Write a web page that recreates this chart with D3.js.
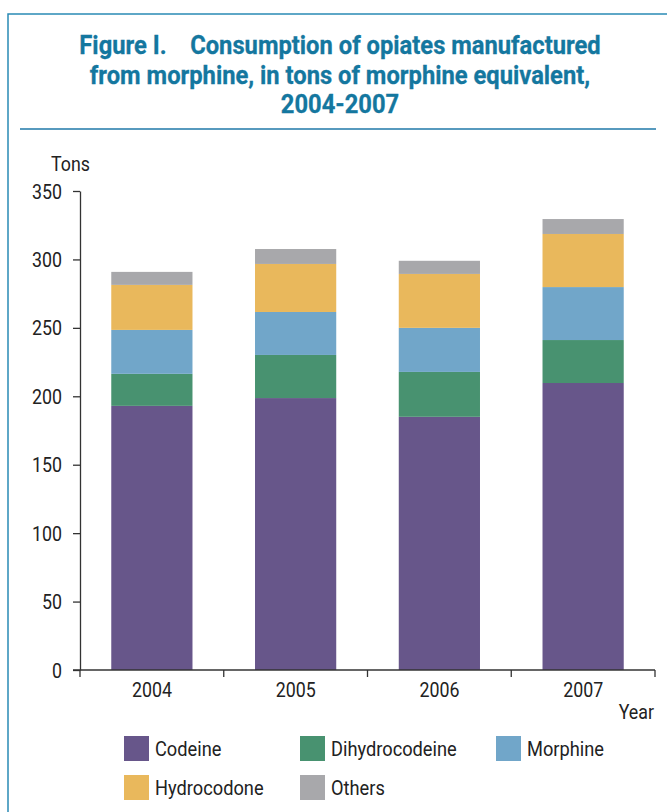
<!DOCTYPE html>
<html>
<head>
<meta charset="utf-8">
<script src="https://cdn.jsdelivr.net/npm/d3@7"></script>
<style>
  html, body { margin: 0; padding: 0; background: #fff; }
  svg { display: block; }
  text { font-family: Roboto, "Liberation Sans", sans-serif; }
</style>
</head>
<body>
<svg id="chart" width="667" height="812"></svg>
<script>
const years = ["2004", "2005", "2006", "2007"];
const seriesNames = ["Codeine", "Dihydrocodeine", "Morphine", "Hydrocodone", "Others"];
const codeine        = [193.0, 198.7, 185.0, 209.7];
const dihydrocodeine = [23.4, 31.5, 32.8, 31.4];
const morphine       = [32.1, 31.4, 32.2, 38.7];
const hydrocodone    = [32.9, 35.1, 39.4, 38.8];
const others         = [9.5, 10.9, 9.6, 10.9];
const yTicks = [0, 50, 100, 150, 200, 250, 300, 350];
const titleLines = ["Figure I.\u00A0\u00A0\u00A0\u00A0Consumption of opiates manufactured",
                    "from morphine, in tons of morphine equivalent,",
                    "2004-2007"];
const colors = ["#67568a", "#489270", "#71a6c9", "#e9b85c", "#a8a8ab"];

const seriesValues = [codeine, dihydrocodeine, morphine, hydrocodone, others];
const rows = years.map((y, i) => {
  const r = { year: y };
  seriesNames.forEach((s, k) => r[s] = seriesValues[k][i]);
  return r;
});

const SX = 0.89;      // horizontal condensing of body text
const TSX = 0.95;     // horizontal condensing of title
const svg = d3.select("#chart");

function ctext(parent, x, y, str, size, anchor, sx) {
  return parent.append("text")
    .attr("transform", `translate(${x},${y}) scale(${sx || SX},1)`)
    .attr("text-anchor", anchor || "start")
    .attr("font-size", size)
    .attr("fill", "#222")
    .text(str);
}

// frame
svg.append("path")
  .attr("d", "M8,812 L8,14 L667,14")
  .attr("fill", "none").attr("stroke", "#2a8ab5").attr("stroke-width", 1.5);

// title
titleLines.forEach((t, i) => {
  ctext(svg, 340, 54 + i * 29.5, t, 25, "middle", TSX)
    .attr("fill", "#14779f").attr("font-weight", "bold")
    .attr("stroke", "#14779f").attr("stroke-width", 0.3);
});
svg.append("line")
  .attr("x1", 20).attr("x2", 656).attr("y1", 129).attr("y2", 129)
  .attr("stroke", "#1f78a8").attr("stroke-width", 1.5);

const x = d3.scaleBand().domain(years).range([80, 655]).paddingInner(0.435).paddingOuter(0.2175);
const y = d3.scaleLinear().domain([0, 350]).range([670, 191]);

const stacked = d3.stack().keys(seriesNames)(rows);

svg.append("g").selectAll("g").data(stacked).join("g")
  .attr("fill", (d, i) => colors[i])
  .selectAll("rect").data(d => d).join("rect")
  .attr("x", d => x(d.data.year))
  .attr("width", x.bandwidth())
  .attr("y", d => y(d[1]))
  .attr("height", d => y(d[0]) - y(d[1]));

// y axis
const yAxis = svg.append("g").attr("transform", "translate(80,0)")
  .call(d3.axisLeft(y).tickValues(yTicks).tickSize(7).tickSizeOuter(0));
yAxis.select(".domain").attr("stroke", "#333").attr("stroke-width", 1.3);
yAxis.selectAll(".tick line").attr("stroke", "#333").attr("stroke-width", 1.3);
yAxis.selectAll(".tick text")
  .attr("x", null).attr("dy", null)
  .attr("transform", `translate(-18,7) scale(${SX},1)`)
  .attr("font-size", 20).attr("fill", "#222")
  .attr("font-family", "Roboto, 'Liberation Sans', sans-serif");

// x axis with ticks at category boundaries
const xg = svg.append("g").attr("transform", "translate(0,670)");
xg.append("line").attr("x1", 73).attr("x2", 655).attr("y1", 0).attr("y2", 0)
  .attr("stroke", "#333").attr("stroke-width", 1.3);
const edges = [x.range()[0]].concat(years.map(d => x(d) + x.bandwidth() + (x.step() - x.bandwidth()) / 2));
edges[edges.length - 1] = x.range()[1];
xg.selectAll("line.tk").data(edges).join("line").attr("class", "tk")
  .attr("x1", d => d).attr("x2", d => d).attr("y1", 0).attr("y2", 7)
  .attr("stroke", "#333").attr("stroke-width", 1.3);
years.forEach(d => ctext(xg, x(d) + x.bandwidth() / 2, 27, d, 20, "middle"));

// axis titles
ctext(svg, 51, 171, "Tons", 20, "start");
ctext(svg, 654, 719, "Year", 20, "end");

// legend
const legPos = [[124, 736], [300, 736], [496, 736], [124, 775], [300, 775]];
const leg = svg.append("g").selectAll("g").data(seriesNames).join("g")
  .attr("transform", (d, i) => `translate(${legPos[i][0]},${legPos[i][1]})`);
leg.append("rect").attr("width", 25).attr("height", 25).attr("fill", (d, i) => colors[i]);
leg.each(function(d) { ctext(d3.select(this), 31, 20, d, 20.5, "start"); });
</script>
</body>
</html>
